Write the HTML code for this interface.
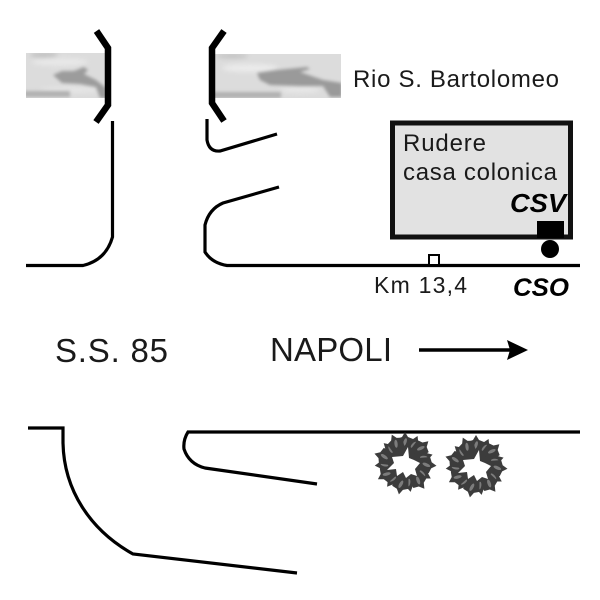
<!DOCTYPE html>
<html>
<head>
<meta charset="utf-8">
<style>
html,body{margin:0;padding:0;background:#fff}
svg{display:block}
text{font-family:"Liberation Sans",sans-serif;fill:#1a1a1a}
.b{font-weight:bold;font-style:italic;fill:#000}
</style>
</head>
<body>
<svg width="600" height="600" viewBox="0 0 600 600" xmlns="http://www.w3.org/2000/svg">
<defs>
<filter id="bl" x="-30%" y="-30%" width="160%" height="160%"><feGaussianBlur stdDeviation="1.5"/></filter>
<filter id="bl2" x="-30%" y="-30%" width="160%" height="160%"><feGaussianBlur stdDeviation="2.5"/></filter>
<clipPath id="c1"><rect x="26" y="53" width="80" height="45"/></clipPath>
<clipPath id="c2"><rect x="215" y="54" width="126" height="44"/></clipPath>
<g id="p">
<path d="M-6,-13 L-8,-24 L-3,-26 L0,-31 L3,-26 L8,-24 L6,-13Z" fill="#3c3c3c"/>
<ellipse cx="0" cy="-21" rx="1.6" ry="4" fill="#7c7c7c" transform="rotate(18 0 -21)"/>
</g>
<g id="tree">
<circle r="20" fill="#3c3c3c"/>
<use href="#p" transform="rotate(0)"/>
<use href="#p" transform="rotate(25) scale(.96)"/>
<use href="#p" transform="rotate(47) scale(1.03)"/>
<use href="#p" transform="rotate(73) scale(.93)"/>
<use href="#p" transform="rotate(95) scale(1.02)"/>
<use href="#p" transform="rotate(121) scale(.97)"/>
<use href="#p" transform="rotate(143) scale(1.04)"/>
<use href="#p" transform="rotate(169) scale(.95)"/>
<use href="#p" transform="rotate(191) scale(1.03)"/>
<use href="#p" transform="rotate(217) scale(.96)"/>
<use href="#p" transform="rotate(239) scale(1.02)"/>
<use href="#p" transform="rotate(265) scale(.98)"/>
<use href="#p" transform="rotate(287) scale(1.03)"/>
<use href="#p" transform="rotate(313) scale(.94)"/>
<use href="#p" transform="rotate(335) scale(1.01)"/>
<polygon fill="#fff" points="3,-16 -2,-7 -13,-6 -11,0 -18,7 -9,6 -8,13 -2,9 1,15 6,11 12,13 10,6 15,0 9,-3 4,-5"/>
</g>
</defs>

<!-- river left -->
<g clip-path="url(#c1)">
<rect x="26" y="53" width="80" height="45" fill="#dcdcdc"/>
<g filter="url(#bl2)">
<ellipse cx="60" cy="62" rx="28" ry="4" fill="#e8e8e8"/>
<ellipse cx="70" cy="90" rx="30" ry="3" fill="#e6e6e6"/>
<ellipse cx="44" cy="55" rx="14" ry="2.5" fill="#bdbdbd"/>
</g>
<g filter="url(#bl)">
<polygon fill="#9c9c9c" points="53,75 62,71 74,71 84,67 88,70 84,74 96,80 106,88 106,98 100,98 96,87 80,84 62,83"/>
<rect x="24" y="91" width="46" height="6" fill="#b0b0b0"/>
</g>
</g>
<!-- river right -->
<g clip-path="url(#c2)">
<rect x="215" y="54" width="126" height="44" fill="#dcdcdc"/>
<g filter="url(#bl2)">
<ellipse cx="250" cy="68" rx="28" ry="4" fill="#ebebeb"/>
<ellipse cx="300" cy="90" rx="20" ry="3" fill="#e8e8e8"/>
<ellipse cx="232" cy="56" rx="16" ry="2.5" fill="#c2c2c2"/>
</g>
<g filter="url(#bl)">
<polygon fill="#9a9a9a" points="257,73 277,70 307,67 310,69 300,72 323,80 342,83 342,97 330,97 323,86 300,86 270,85 260,80"/>
<rect x="213" y="92" width="68" height="6" fill="#b0b0b0"/>
</g>
</g>

<!-- bridges -->
<polyline points="96.5,31 108,48 108,105 96,122" fill="none" stroke="#000" stroke-width="6.5"/>
<polyline points="224,31 212,48 212,103 224,121" fill="none" stroke="#000" stroke-width="6.5"/>

<!-- upper roads -->
<g fill="none" stroke="#000" stroke-linecap="butt">
<path d="M112.500,121 V237 Q106,260 83,265.5 H26" stroke-width="3.2"/>
<path d="M207,119 V140 Q209,152 220,151 L277,134" stroke-width="3.2"/>
<path d="M279,187 L223,203 Q209,209 205,225 V252 Q212,263 227,265.5 H580" stroke-width="3.2"/>
<!-- lower roads -->
<path d="M28,428 H63 V443 C64,490 90,530 133,554 L297,573" stroke-width="3.2"/>
<path d="M580,432 H188 Q183,440 184,449 Q189,464 205,468 L317,484" stroke-width="3.2"/>
</g>

<!-- building -->
<rect x="392.500" y="123" width="178" height="114" fill="#e2e2e2" stroke="#111" stroke-width="5"/>
<rect x="537" y="221" width="27" height="17" fill="#000"/>
<circle cx="550" cy="249" r="9" fill="#000"/>
<rect x="429" y="255" width="10" height="10" fill="#fff" stroke="#000" stroke-width="2"/>

<!-- labels -->
<text x="353" y="87" font-size="24" textLength="206" lengthAdjust="spacing">Rio S. Bartolomeo</text>
<text x="403" y="151" font-size="24" textLength="83" lengthAdjust="spacing">Rudere</text>
<text x="403" y="180" font-size="24" textLength="154" lengthAdjust="spacing">casa colonica</text>
<text class="b" x="510" y="212" font-size="26" textLength="56" lengthAdjust="spacingAndGlyphs">CSV</text>
<text x="374" y="293" font-size="23" textLength="93" lengthAdjust="spacing">Km 13,4</text>
<text class="b" x="513" y="296" font-size="25" textLength="56" lengthAdjust="spacingAndGlyphs">CSO</text>
<text x="55" y="362" font-size="33" textLength="113" lengthAdjust="spacing">S.S. 85</text>
<text x="270" y="361" font-size="33" textLength="122" lengthAdjust="spacing">NAPOLI</text>

<!-- arrow -->
<line x1="419" y1="350" x2="510" y2="350" stroke="#000" stroke-width="3.5"/>
<polygon points="507,340 528,350 507,360 510,350" fill="#000"/>

<!-- trees -->
<use href="#tree" x="405" y="463"/>
<use href="#tree" x="476" y="466"/>
</svg>
</body>
</html>
